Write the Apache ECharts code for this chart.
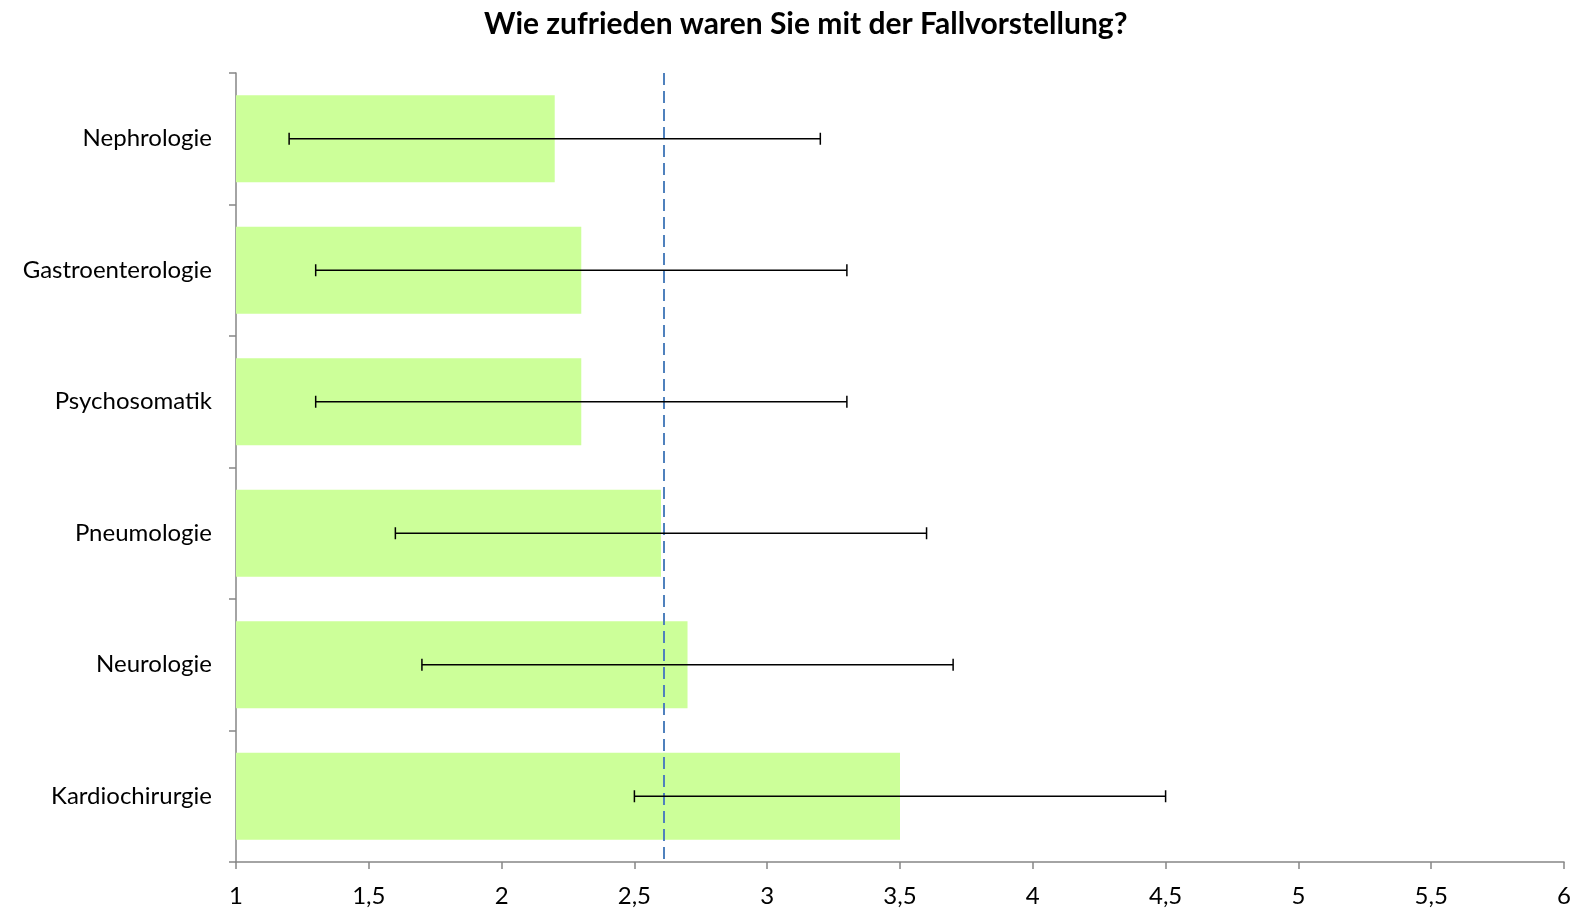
<!DOCTYPE html>
<html>
<head>
<meta charset="utf-8">
<title>Fallvorstellung</title>
<script src="https://cdn.jsdelivr.net/npm/echarts@6/dist/echarts.min.js"></script>
<style>
  html, body { margin: 0; padding: 0; background: #fff; }
  #chart { width: 1579px; height: 910px; }
</style>
</head>
<body>
<div id="chart"></div>
<script>
// Fachrichtungen, von oben nach unten
const categories = ['Nephrologie', 'Gastroenterologie', 'Psychosomatik', 'Pneumologie', 'Neurologie', 'Kardiochirurgie']
// Mittelwerte (Balken)
const means = [2.2, 2.3, 2.3, 2.6, 2.7, 3.5]
// Fehlerbalken unten / oben
const errLow = [1.2, 1.3, 1.3, 1.6, 1.7, 2.5]
const errHigh = [3.2, 3.3, 3.3, 3.6, 3.7, 4.5]
// Gesamtmittelwert (gestrichelte Linie)
const overallMean = 2.61

const errData = categories.map((c, i) => [i, errLow[i], errHigh[i]])

const chart = echarts.init(document.getElementById('chart'))
const font = "Lato, 'Liberation Sans', Arial, sans-serif"

chart.setOption({
  animation: false,
  title: {
    text: 'Wie zufrieden waren Sie mit der Fallvorstellung?',
    left: 479,
    top: 4,
    textStyle: { fontFamily: font, fontSize: 30, fontWeight: 'bold', color: '#000' }
  },
  grid: { left: 236, right: 15, top: 73, bottom: 48 },
  xAxis: {
    type: 'value',
    min: 1,
    max: 6,
    interval: 0.5,
    axisLine: { show: true, lineStyle: { color: '#868686', width: 1.5 } },
    axisTick: { show: true, length: 7, lineStyle: { color: '#868686', width: 1.5 } },
    splitLine: { show: false },
    axisLabel: {
      margin: 22,
      fontFamily: font,
      fontSize: 24,
      color: '#000',
      formatter: v => String(v).replace('.', ',')
    }
  },
  yAxis: {
    type: 'category',
    data: categories,
    inverse: true,
    axisLine: { show: true, lineStyle: { color: '#868686', width: 1.5 } },
    axisTick: { show: true, length: 7, lineStyle: { color: '#868686', width: 1.5 } },
    axisLabel: { margin: 24, fontFamily: font, fontSize: 24, color: '#000' }
  },
  series: [
    {
      type: 'bar',
      data: means,
      barCategoryGap: '34%',
      itemStyle: { color: '#CCFF99' },
      clip: true,
      markLine: {
        silent: true,
        symbol: 'none',
        label: { show: false },
        lineStyle: { color: '#4F81BD', type: [12, 6], width: 2 },
        data: [{ xAxis: overallMean }]
      }
    },
    {
      type: 'custom',
      data: errData,
      z: 5,
      renderItem: (params, api) => {
        const yi = api.value(0)
        const p1 = api.coord([api.value(1), yi])
        const p2 = api.coord([api.value(2), yi])
        const h = 6
        const style = { stroke: '#000', lineWidth: 1.5 }
        return {
          type: 'group',
          children: [
            { type: 'line', shape: { x1: p1[0], y1: p1[1], x2: p2[0], y2: p2[1] }, style },
            { type: 'line', shape: { x1: p1[0], y1: p1[1] - h, x2: p1[0], y2: p1[1] + h }, style },
            { type: 'line', shape: { x1: p2[0], y1: p2[1] - h, x2: p2[0], y2: p2[1] + h }, style }
          ]
        }
      },
      encode: { x: [1, 2], y: 0 }
    }
  ]
})
</script>
</body>
</html>
